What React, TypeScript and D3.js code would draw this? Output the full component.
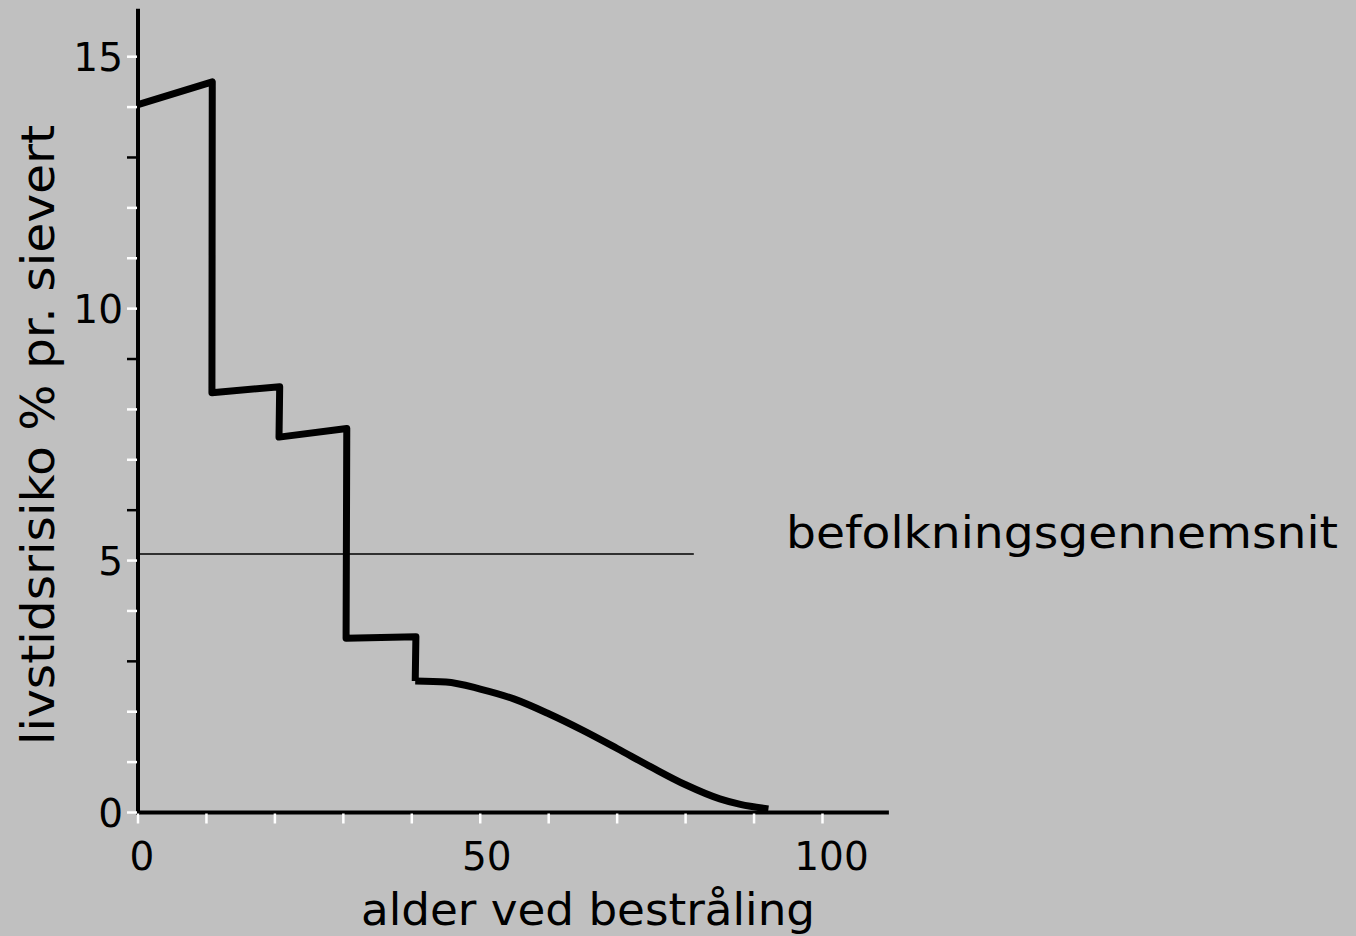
import { useEffect, useRef } from "react";
import * as d3 from "d3";

// age at exposure (years) vs lifetime risk (% per sievert)
const stepAges = [0, 10.85, 10.8, 20.7, 20.6, 30.5, 30.4, 40.6, 40.5];
const stepRisk = [14.05, 14.5, 8.33, 8.45, 7.45, 7.62, 3.46, 3.49, 2.61];
const tailAges = [40.5, 45, 50, 55, 60, 65, 70, 75, 80, 85, 88, 92.1];
const tailRisk = [2.61, 2.59, 2.45, 2.25, 1.96, 1.63, 1.27, 0.9, 0.55, 0.27, 0.16, 0.07];

const averageRisk = 5.13;
const averageEnd = 81.2;

const xTicks = [0, 10, 20, 30, 40, 50, 60, 70, 80, 90, 100];
const xLabels = [0, 50, 100];
const yTicks = [0, 1, 2, 3, 4, 5, 6, 7, 8, 9, 10, 11, 12, 13, 14, 15];
const yLabels = [0, 5, 10, 15];
const darkYTicks = [3, 6, 9, 13];

const FONT = "DejaVu Sans, Verdana, sans-serif";

export default function App() {
  const ref = useRef<SVGSVGElement>(null);

  useEffect(() => {
    const svg = d3.select(ref.current);
    svg.selectAll("*").remove();

    const width = 1356;
    const height = 936;

    const x = d3.scaleLinear().domain([0, 100]).range([138, 822.5]);
    const y = d3.scaleLinear().domain([0, 15]).range([812.5, 56.7]);

    svg.append("rect").attr("width", width).attr("height", height).attr("fill", "#c0c0c0");

    // axes
    svg
      .append("line")
      .attr("x1", x(0))
      .attr("x2", x(0))
      .attr("y1", y(15.95))
      .attr("y2", y(0) + 2)
      .attr("stroke", "#000")
      .attr("stroke-width", 4);
    svg
      .append("line")
      .attr("x1", x(0) - 2)
      .attr("x2", x(109.7))
      .attr("y1", y(0))
      .attr("y2", y(0))
      .attr("stroke", "#000")
      .attr("stroke-width", 4);

    // ticks
    svg
      .append("g")
      .selectAll("line")
      .data(yTicks)
      .join("line")
      .attr("x1", x(0) - 11)
      .attr("x2", x(0) - 1)
      .attr("y1", (d) => y(d))
      .attr("y2", (d) => y(d))
      .attr("stroke", (d) => (darkYTicks.includes(d) ? "#000" : "#fff"))
      .attr("stroke-width", 2.5);

    svg
      .append("g")
      .selectAll("line")
      .data(xTicks)
      .join("line")
      .attr("x1", (d) => x(d))
      .attr("x2", (d) => x(d))
      .attr("y1", y(0) + 1)
      .attr("y2", y(0) + 11)
      .attr("stroke", "#fff")
      .attr("stroke-width", 2.5);

    // tick labels
    svg
      .append("g")
      .selectAll("text")
      .data(yLabels)
      .join("text")
      .attr("x", x(0) - 15)
      .attr("y", (d) => y(d) + 14)
      .attr("text-anchor", "end")
      .attr("font-family", FONT)
      .attr("font-size", 39)
      .text((d) => d);

    svg
      .append("g")
      .selectAll("text")
      .data(xLabels)
      .join("text")
      .attr("x", (d) => x(d) + 4 + d * 0.05)
      .attr("y", y(0) + 57)
      .attr("text-anchor", "middle")
      .attr("font-family", FONT)
      .attr("font-size", 39)
      .text((d) => d);

    // axis titles
    svg
      .append("text")
      .attr("x", 588)
      .attr("y", 925)
      .attr("text-anchor", "middle")
      .attr("font-family", FONT)
      .attr("font-size", 45)
      .attr("textLength", 454)
      .attr("lengthAdjust", "spacingAndGlyphs")
      .text("alder ved bestråling");

    svg
      .append("text")
      .attr("transform", "translate(54,435) rotate(-90)")
      .attr("text-anchor", "middle")
      .attr("font-family", FONT)
      .attr("font-size", 47)
      .attr("textLength", 620)
      .attr("lengthAdjust", "spacingAndGlyphs")
      .text("livstidsrisiko % pr. sievert");

    // population average
    svg
      .append("line")
      .attr("x1", x(0))
      .attr("x2", x(averageEnd))
      .attr("y1", y(averageRisk))
      .attr("y2", y(averageRisk))
      .attr("stroke", "#000")
      .attr("stroke-width", 1.5);

    svg
      .append("text")
      .attr("x", 786)
      .attr("y", 548)
      .attr("font-family", FONT)
      .attr("font-size", 45)
      .attr("textLength", 552)
      .attr("lengthAdjust", "spacingAndGlyphs")
      .text("befolkningsgennemsnit");

    // risk curve
    const steps = d3
      .line<number>()
      .x((d) => x(stepAges[d]))
      .y((d) => y(stepRisk[d]));
    const tail = d3
      .line<number>()
      .x((d) => x(tailAges[d]))
      .y((d) => y(tailRisk[d]))
      .curve(d3.curveMonotoneX);

    svg
      .append("path")
      .attr("d", steps(d3.range(stepAges.length)))
      .attr("fill", "none")
      .attr("stroke", "#000")
      .attr("stroke-width", 7)
      .attr("stroke-linejoin", "round");

    svg
      .append("path")
      .attr("d", tail(d3.range(tailAges.length)))
      .attr("fill", "none")
      .attr("stroke", "#000")
      .attr("stroke-width", 7)
      .attr("stroke-linejoin", "round");
  }, []);

  return (
    <div style={{ position: "absolute", left: 0, top: 0, width: 1356, height: 936 }}>
      <svg ref={ref} width={1356} height={936} style={{ display: "block" }}></svg>
    </div>
  );
}
